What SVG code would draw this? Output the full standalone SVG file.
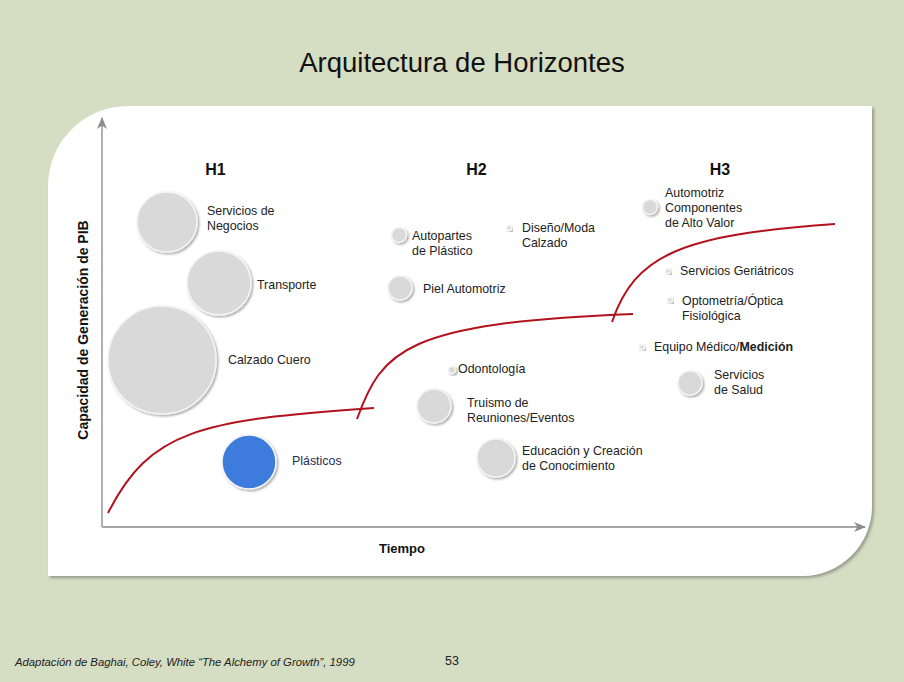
<svg xmlns="http://www.w3.org/2000/svg" width="904" height="682" viewBox="0 0 904 682">
<defs>
<style>
.t{font-family:"Liberation Sans",Arial,sans-serif;font-size:12.4px;fill:#222}
.h{font-family:"Liberation Sans",Arial,sans-serif;font-size:16px;font-weight:bold;fill:#111;text-anchor:middle}
.b{fill:#d9d9d9;stroke:#f4f4f4;stroke-width:1.5}
.curve{fill:none;stroke:#b3121c;stroke-width:2}
.axis{fill:none;stroke:#a6a6a6;stroke-width:1.8}
</style>
<filter id="sh" x="-30%" y="-30%" width="160%" height="160%">
<feDropShadow dx="1.5" dy="1.5" stdDeviation="1.3" flood-color="#000" flood-opacity="0.35"/>
</filter>
<filter id="psh" x="-5%" y="-5%" width="110%" height="110%">
<feDropShadow dx="2" dy="2" stdDeviation="1.5" flood-color="#555" flood-opacity="0.5"/>
</filter>
<marker id="ah" viewBox="0 0 12 10" refX="11" refY="5" markerWidth="12" markerHeight="10" markerUnits="userSpaceOnUse" orient="auto">
<path d="M0,0 L12,5 L0,10 L3.5,5 Z" fill="#8c8c8c"/>
</marker>
</defs>
<rect width="904" height="682" fill="#d5ddc3"/>
<path d="M48,186 A80,80 0 0 1 128,106 L872,106 L872,506 A70,70 0 0 1 802,576 L48,576 Z" fill="#fff" filter="url(#psh)"/>
<text x="462" y="72" font-family="Liberation Sans,Arial,sans-serif" font-size="27.5" fill="#111" text-anchor="middle">Arquitectura de Horizontes</text>

<g id="connectors">
<path class="axis" d="M102,527 L102,118" marker-end="url(#ah)"/>
<path class="axis" d="M102,527 L865,527" marker-end="url(#ah)"/>
<path class="curve" d="M108,513 C150,430 200,420 374,408"/>
<path class="curve" d="M357,419 C382,350 405,323 633,314"/>
<path class="curve" d="M612,322 C635,255 680,235 835,224"/>
</g>

<text x="88" y="330" transform="rotate(-90 88 330)" font-family="Liberation Sans,Arial,sans-serif" font-size="14" font-weight="bold" fill="#111" text-anchor="middle">Capacidad de Generación de PIB</text>
<text x="402" y="553" font-family="Liberation Sans,Arial,sans-serif" font-size="13" font-weight="bold" fill="#111" text-anchor="middle">Tiempo</text>

<text class="h" x="215.5" y="175">H1</text>
<text class="h" x="476.5" y="175">H2</text>
<text class="h" x="720" y="175">H3</text>

<g id="servicios-negocios"><circle class="b" cx="167" cy="222" r="30" filter="url(#sh)"/><text class="t" x="207" y="215">Servicios de</text><text class="t" x="207" y="230">Negocios</text></g>
<g id="transporte"><circle class="b" cx="219" cy="283" r="32" filter="url(#sh)"/><text class="t" x="257" y="289">Transporte</text></g>
<g id="calzado-cuero"><circle class="b" cx="162" cy="360" r="54" filter="url(#sh)"/><text class="t" x="228" y="364">Calzado Cuero</text></g>
<g id="plasticos"><circle cx="249" cy="462" r="27" fill="#3e7bdc" stroke="#f4f4f4" stroke-width="1.5" filter="url(#sh)"/><text class="t" x="292" y="465" style="fill:#1f2d55">Plásticos</text></g>

<g id="autopartes"><circle class="b" cx="399" cy="235" r="7.5" filter="url(#sh)"/><text class="t" x="412" y="240">Autopartes</text><text class="t" x="412" y="255">de Plástico</text></g>
<g id="diseno"><circle class="b" cx="509" cy="228" r="2.5" filter="url(#sh)"/><text class="t" x="522" y="232">Diseño/Moda</text><text class="t" x="522" y="247">Calzado</text></g>
<g id="piel"><circle class="b" cx="400" cy="288" r="12" filter="url(#sh)"/><text class="t" x="423" y="293">Piel Automotriz</text></g>
<g id="odontologia"><circle class="b" cx="452" cy="370" r="3.5" filter="url(#sh)"/><text class="t" x="458" y="373">Odontología</text></g>
<g id="truismo"><circle class="b" cx="434" cy="406" r="17" filter="url(#sh)"/><text class="t" x="467" y="407">Truismo de</text><text class="t" x="467" y="422">Reuniones/Eventos</text></g>
<g id="educacion"><circle class="b" cx="496" cy="458" r="19" filter="url(#sh)"/><text class="t" x="522" y="455">Educación y Creación</text><text class="t" x="522" y="470">de Conocimiento</text></g>

<g id="automotriz"><circle class="b" cx="650" cy="207" r="7.5" filter="url(#sh)"/><text class="t" x="665" y="197">Automotriz</text><text class="t" x="665" y="212">Componentes</text><text class="t" x="665" y="227">de Alto Valor</text></g>
<g id="geriatricos"><circle class="b" cx="668" cy="271" r="2.5" filter="url(#sh)"/><text class="t" x="680" y="275">Servicios Geriátricos</text></g>
<g id="optometria"><circle class="b" cx="670" cy="300" r="2.5" filter="url(#sh)"/><text class="t" x="682" y="305">Optometría/Óptica</text><text class="t" x="682" y="320">Fisiológica</text></g>
<g id="equipo"><circle class="b" cx="642" cy="347" r="2.5" filter="url(#sh)"/><text class="t" x="654" y="351">Equipo Médico/<tspan font-weight="bold">Medición</tspan></text></g>
<g id="salud"><circle class="b" cx="690" cy="383" r="12" filter="url(#sh)"/><text class="t" x="714" y="379">Servicios</text><text class="t" x="714" y="394">de Salud</text></g>

<text x="15" y="666" font-family="Liberation Sans,Arial,sans-serif" font-size="11.3" font-style="italic" fill="#222">Adaptación de Baghai, Coley, White “The Alchemy of Growth”, 1999</text>
<text x="445" y="665" font-family="Liberation Sans,Arial,sans-serif" font-size="12.5" fill="#222">53</text>
</svg>
